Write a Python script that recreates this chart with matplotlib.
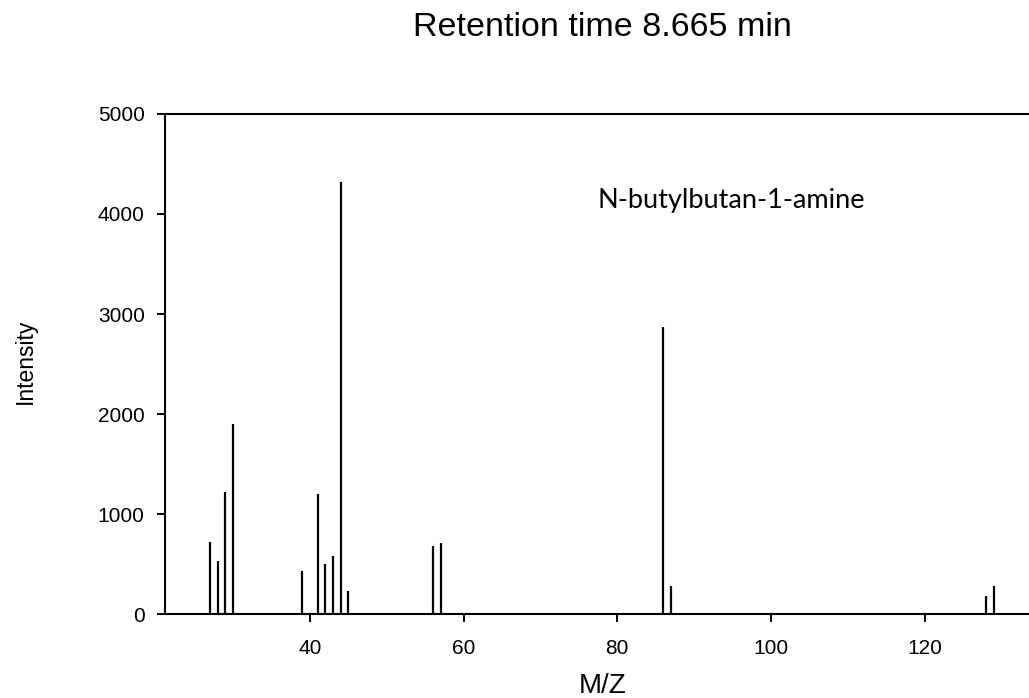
import matplotlib.pyplot as plt

plt.rcParams['font.family'] = ['Liberation Sans', 'DejaVu Sans']

# peaks
mz = [27, 28, 29, 30, 39, 41, 42, 43, 44, 45, 56, 57, 86, 87, 128, 129]
intensity = [720, 535, 1225, 1905, 435, 1200, 500, 580, 4320, 226,
             680, 710, 2875, 285, 176, 276]
x_ticks = [40, 60, 80, 100, 120]
y_ticks = [0, 1000, 2000, 3000, 4000, 5000]

fig = plt.figure(figsize=(10.29, 6.98), dpi=100)
ax = fig.add_axes([0.1608, 0.1203, 0.8392, 0.7164])

ax.vlines(mz, 0, intensity, color='black', linewidth=1.6)

ax.set_xlim(21.2, 133.6)
ax.set_ylim(0, 5000)
ax.set_xticks(x_ticks)
ax.set_yticks(y_ticks)
ax.tick_params(axis='both', direction='out', length=6, width=1.4,
               labelsize=15)
ax.tick_params(axis='y', pad=9)
ax.tick_params(axis='x', pad=12)
for side in ['left', 'bottom', 'top']:
    ax.spines[side].set_linewidth(1.5)
ax.spines['right'].set_visible(False)

ax.set_xlabel('M/Z', fontsize=20, va='center')
ax.xaxis.set_label_coords(0.5067, -0.144)
ax.set_ylabel('Intensity', fontsize=16.5, va='center', ha='center')
ax.yaxis.set_label_coords(-0.1627, 0.506)

# compound name, placed in data units
ax.text(77.4, 4063, 'N-butylbutan-1-amine', fontsize=19.5,
        family=['Lato', 'DejaVu Sans'], va='baseline')

fig.text(602 / 1029, 1 - 27 / 698, 'Retention time 8.665 min',
         ha='center', va='center', fontsize=24.5)

fig.savefig('out.png', dpi=100)
